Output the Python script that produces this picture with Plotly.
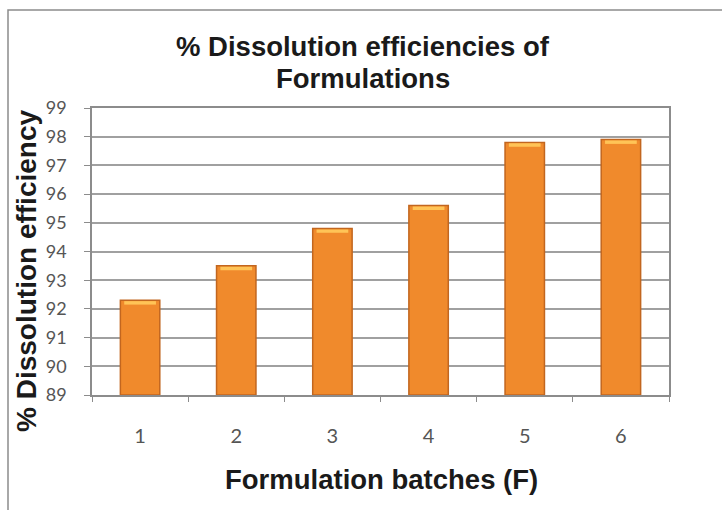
import plotly.graph_objects as go

batches = ["1", "2", "3", "4", "5", "6"]
efficiency = [92.3, 93.5, 94.8, 95.6, 97.8, 97.9]
y_ticks = [89, 90, 91, 92, 93, 94, 95, 96, 97, 98, 99]

W, H = 722, 510
L, R, T, B = 92, 53, 108, 115
pw, ph = W - L - R, H - T - B

fig = go.Figure()
fig.add_trace(go.Bar(
    x=batches, y=[v - 89 for v in efficiency], base=89,
    marker=dict(color="#F08A2C", line=dict(color="#C2661F", width=1.5)),
    width=0.41, hoverinfo="skip"))
# top bevel highlight
hl = 0.12
fig.add_trace(go.Bar(
    x=batches, y=[hl] * len(batches), base=[v - hl - 0.03 for v in efficiency],
    marker=dict(color="#FFC457", line=dict(width=0)),
    width=0.33, hoverinfo="skip"))

def px_x(p):
    return (p - L) / pw

def px_y(p):
    return (H - B - p) / ph

fig.add_shape(type="rect", xref="paper", yref="paper",
              x0=px_x(8), x1=px_x(730), y0=px_y(520), y1=px_y(10),
              line=dict(color="#8c8c8c", width=1.5), fillcolor="rgba(0,0,0,0)",
              layer="below")

title_font = dict(family="Liberation Sans, Arial", size=27.5, color="#1a1a1a")
fig.add_annotation(text="<b>% Dissolution efficiencies of</b>", xref="paper", yref="paper",
                   x=px_x(363), y=px_y(46), showarrow=False, xanchor="center",
                   yanchor="middle", font=title_font)
fig.add_annotation(text="<b>Formulations</b>", xref="paper", yref="paper",
                   x=px_x(363), y=px_y(79), showarrow=False, xanchor="center",
                   yanchor="middle", font=title_font)
fig.add_annotation(text="<b>Formulation batches (F)</b>", xref="paper", yref="paper",
                   x=px_x(381), y=px_y(479), showarrow=False, xanchor="center",
                   yanchor="middle", font=dict(family="Liberation Sans, Arial", size=27.5, color="#1a1a1a"))
fig.add_annotation(text="<b>% Dissolution efficiency</b>", xref="paper", yref="paper",
                   x=px_x(26), y=px_y(271), showarrow=False, xanchor="center",
                   yanchor="middle", textangle=-90,
                   font=dict(family="Liberation Sans, Arial", size=28, color="#1a1a1a"))

fig.update_layout(
    width=W, height=H, barmode="overlay", showlegend=False,
    margin=dict(l=L, r=R, t=T, b=B),
    paper_bgcolor="white", plot_bgcolor="white",
    xaxis=dict(type="category", showline=True, linecolor="#8c8c8c", linewidth=1.5,
               mirror=True, ticks="outside", tickson="boundaries", ticklen=5,
               tickcolor="#8c8c8c", showgrid=False, ticklabelstandoff=22,
               tickfont=dict(family="Lato, Calibri", size=20, color="#555555")),
    yaxis=dict(range=[89, 99], tickvals=y_ticks, showline=True, linecolor="#8c8c8c",
               linewidth=1.5, mirror=True, ticks="outside", ticklen=6, tickcolor="#8c8c8c",
               showgrid=True, gridcolor="#a0a0a0", gridwidth=1.5, zeroline=False,
               ticklabelstandoff=14,
               tickfont=dict(family="Lato, Calibri", size=18, color="#555555")),
)

fig.write_html("out.html")
